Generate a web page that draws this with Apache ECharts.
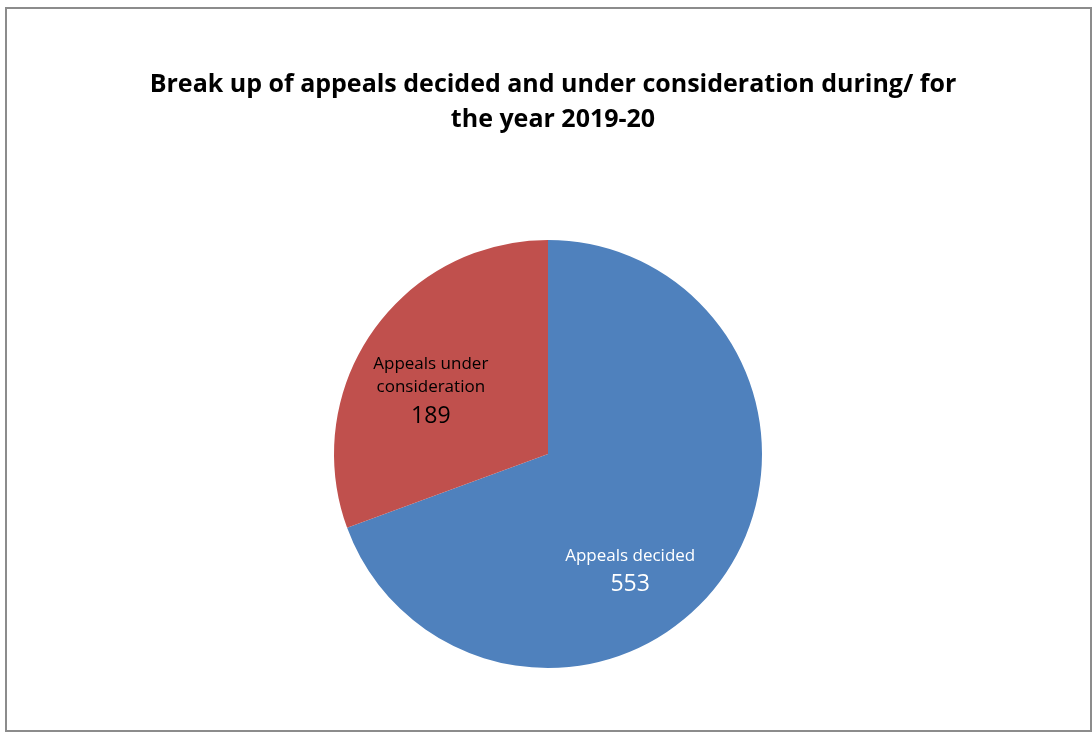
<!DOCTYPE html>
<html>
<head>
<meta charset="utf-8">
<script src="https://cdn.jsdelivr.net/npm/echarts@6/dist/echarts.min.js"></script>
<style>
  html, body { margin: 0; padding: 0; background: #fff; }
  #frame { position: absolute; left: 5px; top: 7px; width: 1083px; height: 721px; border: 2px solid #8c8c8c; }
  #chart { position: absolute; left: 0; top: 0; width: 1092px; height: 732px; }
</style>
</head>
<body>
<div id="frame"></div>
<div id="chart"></div>
<script>
// --- DATEN ---
const categories = ['Appeals decided', 'Appeals under consideration'];
const labelValues = [553, 189];           // Zahlen wie im Bild beschriftet
const sliceShares = [69.4, 30.6];         // Kreisanteile (%) wie im Bild gezeichnet
const colors = ['#4F81BD', '#C0504D'];
const labelNames = ['Appeals decided', 'Appeals under\nconsideration'];

// Label-Verschiebung (Excel "best fit" nachgebildet)
const labelShift = [[-8, 56], [-27, 2]];

const chart = echarts.init(document.getElementById('chart'));

chart.setOption({
    backgroundColor: 'transparent',
    animation: false,
    title: {
        text: 'Break up of appeals decided and under consideration during/ for\nthe year 2019-20',
        left: 548,
        textAlign: 'center',
        top: 62,
        textStyle: {
            fontFamily: 'Open Sans',
            fontWeight: 'bold',
            fontSize: 25,
            lineHeight: 35,
            color: '#000'
        }
    },
    series: [{
        type: 'pie',
        center: [548, 454],
        radius: 214,
        startAngle: 90,
        clockwise: true,
        silent: true,
        labelLine: { show: false },
        label: {
            position: 'inside',
            formatter: p => '{n|' + labelNames[p.dataIndex] + '}\n{v|' + labelValues[p.dataIndex] + '}',
            rich: {
                n: { fontFamily: 'Open Sans', fontSize: 17, lineHeight: 23, align: 'center' },
                v: { fontFamily: 'Open Sans', fontSize: 23, lineHeight: 34, align: 'center' }
            }
        },
        labelLayout: p => ({ dx: labelShift[p.dataIndex][0], dy: labelShift[p.dataIndex][1] }),
        data: categories.map((c, i) => ({
            name: c,
            value: sliceShares[i],
            itemStyle: { color: colors[i] },
            label: { color: i === 0 ? '#fff' : '#000' }
        }))
    }]
});
</script>
</body>
</html>
